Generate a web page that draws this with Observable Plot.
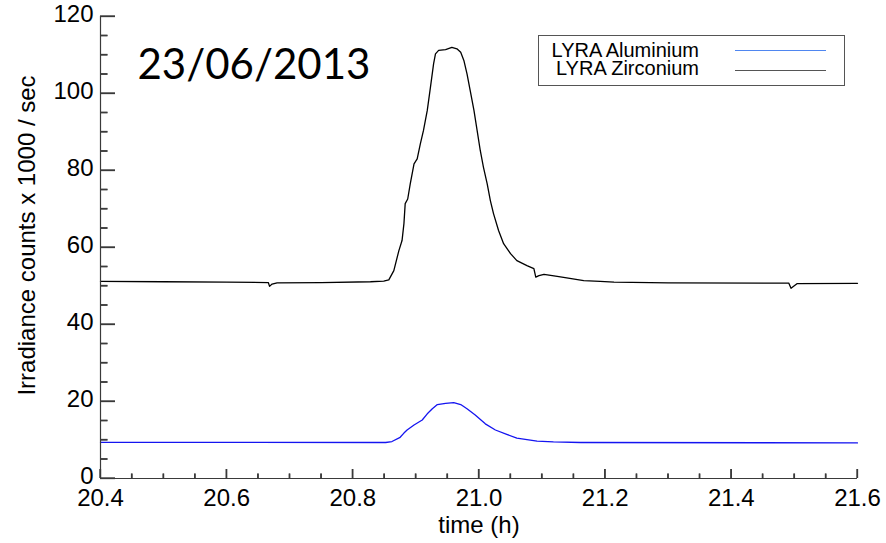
<!DOCTYPE html>
<html>
<head>
<meta charset="utf-8">
<script src="https://cdn.jsdelivr.net/npm/d3@7"></script>
<script src="https://cdn.jsdelivr.net/npm/@observablehq/plot@0.6"></script>
<style>
  body { margin: 0; background: #fff; }
  #wrap { width: 886px; height: 543px; }
</style>
</head>
<body>
<div id="wrap"></div>
<script>
// ---- Data ----
const zrTime = [20.40, 20.50, 20.60, 20.666, 20.668, 20.672, 20.680, 20.75, 20.828, 20.849,
  20.857, 20.865, 20.873, 20.878, 20.881, 20.883, 20.887, 20.891, 20.897, 20.902,
  20.907, 20.912, 20.918, 20.923, 20.928, 20.931, 20.936, 20.947, 20.957, 20.965,
  20.971, 20.976, 20.981, 20.986, 20.992, 20.997, 21.002, 21.007, 21.013, 21.018,
  21.023, 21.031, 21.039, 21.050, 21.060, 21.076, 21.087, 21.090, 21.095, 21.103,
  21.124, 21.139, 21.166, 21.192, 21.214, 21.30, 21.491, 21.4946, 21.504, 21.60];
const zrValue = [51.2, 51.1, 51.0, 50.9, 49.9, 50.5, 50.8, 50.9, 51.1, 51.25,
  51.6, 54.0, 59.2, 61.8, 66.2, 71.4, 72.6, 76.5, 81.7, 83.0,
  86.9, 90.4, 95.6, 101.6, 107.7, 110.3, 111.2, 111.4, 112.0, 111.6,
  110.7, 108.6, 105.1, 100.8, 95.6, 90.4, 85.2, 80.9, 76.5, 72.2,
  68.8, 64.4, 61.0, 58.4, 56.6, 55.3, 54.5, 52.3, 52.7, 53.0,
  52.5, 52.1, 51.4, 51.2, 51.0, 50.8, 50.75, 49.4, 50.6, 50.7];

const alTime = [20.40, 20.852, 20.862, 20.875, 20.881, 20.886, 20.897, 20.910, 20.918, 20.926,
  20.934, 20.947, 20.960, 20.971, 20.981, 20.994, 21.010, 21.026, 21.045, 21.060,
  21.076, 21.092, 21.118, 21.161, 21.60];
const alValue = [9.4, 9.35, 9.6, 10.7, 11.8, 12.6, 13.9, 15.2, 16.8, 18.1,
  19.2, 19.5, 19.7, 19.2, 18.1, 16.5, 14.2, 12.6, 11.4, 10.5,
  10.1, 9.7, 9.5, 9.35, 9.25];

const seriesNames = ["LYRA Aluminium", "LYRA Zirconium"];
const seriesColors = ["#1414f0", "#000000"];
const legendColors = ["#4f86f0", "#555555"];

const xTicks = [20.4, 20.6, 20.8, 21.0, 21.2, 21.4, 21.6];
const xMinorTicks = [20.45, 20.5, 20.55, 20.65, 20.7, 20.75, 20.85, 20.9, 20.95, 21.05, 21.1, 21.15,
  21.25, 21.3, 21.35, 21.45, 21.5, 21.55];
const yTicks = [0, 20, 40, 60, 80, 100, 120];
const yMinorTicks = [5, 10, 15, 25, 30, 35, 45, 50, 55, 65, 70, 75, 85, 90, 95, 105, 110, 115];

const titleText = "23/06/2013";
const xLabel = "time (h)";
const yLabel = "Irradiance counts x 1000 / sec";

// ---- Table for Plot ----
const rows = [
  ...zrTime.map((t, i) => ({series: seriesNames[1], t, v: zrValue[i]})),
  ...alTime.map((t, i) => ({series: seriesNames[0], t, v: alValue[i]}))
];

const W = 886, H = 543, ML = 100, MR = 29, MT = 16, MB = 65;
const frameW = W - ML - MR, frameH = H - MT - MB;
const axisColor = "#3a3a3a";
const font = "'Liberation Sans', Arial, sans-serif";

const chart = Plot.plot({
  width: W,
  height: H,
  marginLeft: ML,
  marginRight: MR,
  marginTop: MT,
  marginBottom: MB,
  x: {domain: [20.4, 21.6], axis: null},
  y: {domain: [0, 120], axis: null},
  color: {domain: seriesNames, range: seriesColors},
  style: {fontFamily: font, fontSize: "24px", background: "#fff", color: "#000"},
  marks: [
    Plot.line(rows, {x: "t", y: "v", z: "series", stroke: "series", strokeWidth: 1.3}),
    // inward ticks as short inset rules
    Plot.ruleY(yMinorTicks, {y: d => d, insetRight: frameW - 7.5, stroke: axisColor, strokeWidth: 1.3}),
    Plot.ruleY(yTicks, {y: d => d, insetRight: frameW - 15, stroke: axisColor, strokeWidth: 1.3}),
    Plot.ruleX(xMinorTicks, {x: d => d, insetTop: frameH - 4.5, stroke: axisColor, strokeWidth: 1.3}),
    Plot.ruleX(xTicks, {x: d => d, insetTop: frameH - 9, stroke: axisColor, strokeWidth: 1.3}),
    Plot.ruleX([20.4], {stroke: axisColor, strokeWidth: 1.2}),
    Plot.ruleY([0], {stroke: axisColor, strokeWidth: 1.2}),
    Plot.axisY(yTicks, {tickSize: 0, tickPadding: 7, dy: -2, label: null, fill: "#000", fontSize: 24}),
    Plot.axisX(xTicks, {tickSize: 0, tickPadding: 10, tickFormat: d3.format(".1f"), label: null, fill: "#000", fontSize: 24}),
    Plot.text([titleText], {text: d => d, frameAnchor: "top-left", dx: 37, dy: 62, lineAnchor: "bottom",
      textAnchor: "start", fontFamily: "Lato, 'Open Sans', sans-serif", fontSize: 42, fill: "#000"}),
    Plot.text([yLabel], {text: d => d, frameAnchor: "left", dx: -73, dy: -12, rotate: -90,
      textAnchor: "middle", lineAnchor: "middle", fontSize: 24, fill: "#000"}),
    Plot.text([xLabel], {text: d => d, frameAnchor: "bottom", dy: 47, textAnchor: "middle",
      lineAnchor: "middle", fontSize: 24, fill: "#000"})
  ]
});

// ---- Extra inward ticks placed with the chart's own scales (same positions) ----
const sx = chart.scale("x"), sy = chart.scale("y");
const x0 = sx.apply(20.4), y0 = sy.apply(0);
const tickG = d3.select(chart).append("g").attr("aria-label", "inward ticks");
const yTickDefs = [...yMinorTicks.map(v => [v, 7.5]), ...yTicks.map(v => [v, 15])];
yTickDefs.forEach(([v, len]) => {
  const py = sy.apply(v);
  tickG.append("line").attr("x1", x0).attr("x2", x0 + len).attr("y1", py).attr("y2", py)
    .attr("stroke", axisColor).attr("stroke-width", 1.3);
});
const xTickDefs = [...xMinorTicks.map(v => [v, 4.5]), ...xTicks.map(v => [v, 9])];
xTickDefs.forEach(([v, len]) => {
  const px = sx.apply(v);
  tickG.append("line").attr("x1", px).attr("x2", px).attr("y1", y0).attr("y2", y0 - len)
    .attr("stroke", axisColor).attr("stroke-width", 1.3);
});

// ---- Legend box, drawn inside the chart's SVG from the series arrays ----
const leg = d3.select(chart).append("g").attr("aria-label", "legend");
leg.append("rect")
  .attr("x", 538.5).attr("y", 35.5).attr("width", 306).attr("height", 50)
  .attr("fill", "#fff").attr("stroke", "#555").attr("stroke-width", 1);
seriesNames.forEach((name, i) => {
  leg.append("text")
    .attr("x", 699).attr("y", 57 + i * 18)
    .attr("text-anchor", "end")
    .attr("font-family", font).attr("font-size", 20).attr("fill", "#000")
    .text(name);
  leg.append("line")
    .attr("x1", 735).attr("x2", 826)
    .attr("y1", 50.5 + i * 20).attr("y2", 50.5 + i * 20)
    .attr("stroke", legendColors[i]).attr("stroke-width", 1.2);
});

document.getElementById("wrap").appendChild(chart);
</script>
</body>
</html>
